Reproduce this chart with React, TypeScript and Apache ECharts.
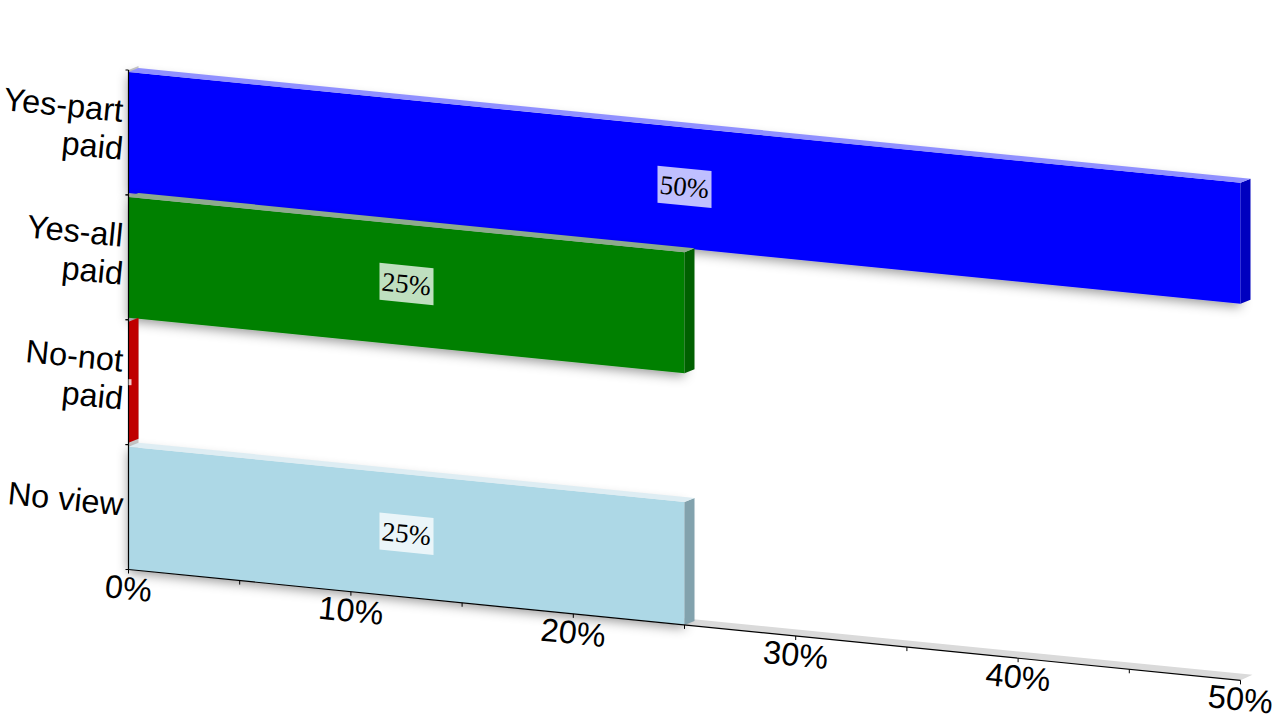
import React, { useEffect, useRef } from "react";
import * as echarts from "echarts";

const categories = ["Yes-part\npaid", "Yes-all\npaid", "No-not\npaid", "No view"];
const values = [50, 25, 0, 25];
const frontColors = ["#0000FF", "#008000", "#FF0000", "#ADD8E6"];
const sideColors = ["#0000BF", "#006000", "#BF0000", "#82A2AD"];
const topColors = ["#9090FF", "#8DAA8D", "#DD8888", "#DEEDF3"];
const xTicks = [0, 5, 10, 15, 20, 25, 30, 35, 40, 45, 50];
const xTickLabels = ["0%", "", "10%", "", "20%", "", "30%", "", "40%", "", "50%"];

const SLOPE = 0.0997;
const TILT = -Math.atan(SLOPE);
const DX = 10;
const DY = -4;
const INSET = 2;
const SANS = "'Liberation Sans', Arial, sans-serif";
const SERIF = "'Liberation Serif', 'Times New Roman', serif";

export default function App() {
  const ref = useRef<HTMLDivElement>(null);
  useEffect(() => {
    const chart = echarts.init(ref.current!, undefined, { renderer: "svg" });

    const project = (api: any, v: number, cat: number, frac: number) => {
      const p = api.coord([v, cat]);
      const origin = api.coord([0, cat]);
      const band = api.size([0, 1])[1];
      return [p[0], p[1] + band * frac + (p[0] - origin[0]) * SLOPE];
    };
    const shift = (p: number[]) => [p[0] + DX, p[1] + DY];

    const renderBack = (_: any, api: any) => {
      const last = categories.length - 1;
      const a = project(api, 0, 0, -0.5);
      const b = project(api, 0, last, 0.5);
      const c = project(api, xTicks[xTicks.length - 1], last, 0.5);
      return {
        type: "group",
        children: [
          { type: "polygon", shape: { points: [a, shift(a), shift(b), b] }, style: { fill: "#C8C8C8" } },
          {
            type: "polygon",
            shape: { points: [b, c, [c[0] + DX + 2, c[1] + DY - 1.5], [b[0] + DX + 2, b[1] + DY - 1.5]] },
            style: { fill: "#DADADA" },
          },
        ],
      };
    };

    const renderBar = (params: any, api: any) => {
      const i = params.dataIndex;
      const v = api.value(0);
      const cat = api.value(1);
      const band = api.size([0, 1])[1];
      const tf = -0.5 + INSET / band;
      const bf = cat === categories.length - 1 ? 0.5 : 0.5 - INSET / band;
      const tl = project(api, 0, cat, tf);
      const bl = project(api, 0, cat, bf);
      const tr = project(api, v, cat, tf);
      const br = project(api, v, cat, bf);
      const children: any[] = [];
      if (v > 0) {
        children.push({
          type: "polygon",
          shape: { points: [tl, tr, br, bl] },
          style: {
            fill: frontColors[i],
            shadowBlur: 12,
            shadowColor: "rgba(0,0,0,0.42)",
            shadowOffsetY: 3,
          },
        });
      }
      children.push({
        type: "polygon",
        shape: { points: [tr, shift(tr), shift(br), br] },
        style: { fill: sideColors[i] },
      });
      if (v > 0) {
        children.push({
          type: "polygon",
          shape: { points: [tl, shift(tl), shift(tr), tr] },
          style: { fill: topColors[i] },
        });
      }
      return { type: "group", children };
    };

    const renderValueAxis = (params: any, api: any) => {
      const i = params.dataIndex;
      const v = api.value(0);
      const last = categories.length - 1;
      const p = project(api, v, last, 0.5);
      const children: any[] = [
        {
          type: "line",
          shape: { x1: p[0], y1: p[1], x2: p[0], y2: p[1] + 4 },
          style: { stroke: "#000", lineWidth: 1 },
        },
      ];
      if (i === 0) {
        const e = project(api, xTicks[xTicks.length - 1], last, 0.5);
        children.push({
          type: "line",
          shape: { x1: p[0], y1: p[1], x2: e[0], y2: e[1] },
          style: { stroke: "#000", lineWidth: 1.2 },
        });
      }
      if (xTickLabels[i]) {
        children.push({
          type: "text",
          x: p[0],
          y: p[1] + 19,
          rotation: TILT,
          style: {
            text: xTickLabels[i],
            fontFamily: SANS,
            fontSize: 32.5,
            fill: "#000",
            align: "center",
            verticalAlign: "middle",
          },
        });
      }
      return { type: "group", children };
    };

    const renderCategoryAxis = (params: any, api: any) => {
      const cat = api.value(1);
      const top = project(api, 0, cat, -0.5);
      const bottom = project(api, 0, cat, 0.5);
      const center = project(api, 0, cat, 0);
      const children: any[] = [
        {
          type: "line",
          shape: { x1: top[0], y1: top[1], x2: bottom[0], y2: bottom[1] },
          style: { stroke: "#000", lineWidth: 1.2 },
        },
        {
          type: "line",
          shape: { x1: top[0] - 3, y1: top[1], x2: top[0], y2: top[1] },
          style: { stroke: "#000", lineWidth: 1 },
        },
        {
          type: "line",
          shape: { x1: bottom[0] - 3, y1: bottom[1], x2: bottom[0], y2: bottom[1] },
          style: { stroke: "#000", lineWidth: 1 },
        },
      ];
      const lines = categories[params.dataIndex].split("\n");
      lines.forEach((line, k) => {
        children.push({
          type: "text",
          x: top[0] - 5.5,
          y: center[1] - 2.5 + (k - (lines.length - 1) / 2) * 38,
          rotation: TILT,
          style: {
            text: line,
            fontFamily: SANS,
            fontSize: 32.5,
            fill: "#000",
            align: "right",
            verticalAlign: "middle",
          },
        });
      });
      return { type: "group", children };
    };

    const renderValueLabel = (_: any, api: any) => {
      const v = api.value(0);
      const cat = api.value(1);
      const mid = project(api, v / 2, cat, 0);
      if (v === 0) {
        return {
          type: "rect",
          shape: { x: mid[0], y: mid[1] - 3, width: 3, height: 6 },
          style: { fill: "rgba(255,255,255,0.8)" },
        };
      }
      const hw = 27;
      const hh = 18.5;
      const cy = mid[1] - 1;
      return {
        type: "group",
        children: [
          {
            type: "polygon",
            shape: {
              points: [
                [mid[0] - hw, cy - hh - hw * SLOPE],
                [mid[0] + hw, cy - hh + hw * SLOPE],
                [mid[0] + hw, cy + hh + hw * SLOPE],
                [mid[0] - hw, cy + hh - hw * SLOPE],
              ],
            },
            style: { fill: "rgba(255,255,255,0.75)" },
          },
          {
            type: "text",
            x: mid[0],
            y: cy,
            rotation: TILT,
            style: {
              text: `${v}%`,
              fontFamily: SERIF,
              fontSize: 27,
              fill: "#000",
              align: "center",
              verticalAlign: "middle",
            },
          },
        ],
      };
    };

    const customSeries = (renderItem: any, data: number[][]) => ({
      type: "custom",
      renderItem,
      clip: false,
      silent: true,
      data,
      encode: { x: 0, y: 1 },
    });
    const barData = values.map((v, i) => [v, i]);

    chart.setOption({
      animation: false,
      backgroundColor: "#FFFFFF",
      grid: { left: 128.5, top: 70, width: 1112, height: 499.5, containLabel: false },
      xAxis: { type: "value", min: 0, max: 50, interval: 10, show: false },
      yAxis: { type: "category", data: categories, inverse: true, show: false },
      series: [
        customSeries(renderBack, [[0, 0]]),
        customSeries(renderBar, barData),
        customSeries(renderValueAxis, xTicks.map((t) => [t, categories.length - 1])),
        customSeries(renderCategoryAxis, categories.map((_, i) => [0, i])),
        customSeries(renderValueLabel, barData),
      ],
    });
    return () => chart.dispose();
  }, []);
  return (
    <div
      ref={ref}
      style={{ position: "fixed", left: 0, top: 0, width: 1280, height: 720, background: "#fff" }}
    />
  );
}
